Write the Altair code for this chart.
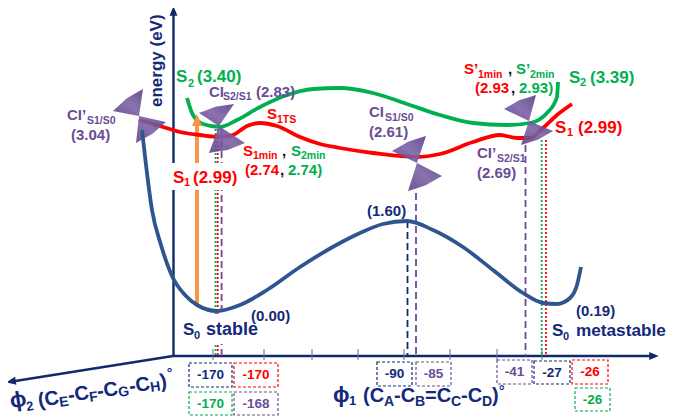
import altair as alt
import pandas as pd

NAVY = "#14297a"
AXIS = "#0f2b6b"
CURVE = "#2f5590"
RED = "#ff0000"
GREEN = "#00b050"
PURPLE = "#6b4c96"
ORANGE = "#f79646"
BLACK = "#111111"

# curves, in the picture's own units
s0_x = [142, 146, 152, 161, 173, 185, 197, 217, 240, 267, 300, 340, 360, 383, 407, 433, 463, 493, 523, 543, 557, 570, 577, 581]
s0_y = [130, 165, 210, 245, 278, 295, 305, 311, 305, 290, 267, 243, 233, 224, 221, 230, 247, 270, 293, 303, 304, 298, 285, 267]
s1_x = [139, 160, 180, 200, 220, 233, 247, 260, 277, 300, 320, 340, 373, 417, 440, 473, 500, 517, 530, 543, 557, 572]
s1_y = [120, 126, 132, 135, 137, 135, 126, 123, 126, 137, 144, 148, 153, 157, 154, 142, 135, 138, 138, 128, 115, 104]
s2_x = [187, 193, 203, 220, 237, 260, 287, 313, 340, 373, 407, 440, 473, 507, 530, 547, 557, 558]
s2_y = [98, 115, 124, 127, 120, 107, 95, 89, 88, 93, 104, 115, 123, 125, 123, 113, 97, 82]

# axes
axis_x = [[173.5, 173.5], [173, 652], [173, 12]]
axis_y = [[12, 356], [356, 356], [356, 381.5]]
arrow_x = [173.5, 654, 11, 197]
arrow_y = [11, 356, 381.5, 120]
arrow_a = [0, 90, 261, 0]
arrow_c = [AXIS, AXIS, AXIS, ORANGE]
arrow_s = [64, 64, 64, 100]
tick_x = [213, 264, 312, 358, 404, 450, 497, 542]

# drop lines
drop_x = [215.5, 217.7, 221.6, 407.5, 416, 525.5, 541.7, 546]
drop_top = [129, 129, 129, 221, 193, 145, 140, 140]
drop_c = [GREEN, RED, PURPLE, NAVY, PURPLE, PURPLE, GREEN, RED]
drop_d = [[2, 2], [2, 2], [7, 4], [7, 4], [7, 4], [7, 4], [2, 2], [2, 2]]

# white label backgrounds
mask_x = [170, 183]
mask_x2 = [240, 262]
mask_y = [163, 314]
mask_y2 = [190, 344]

# conical intersections: apex and the two rim tips of each cone
cone_x = [139, 139, 219, 219, 417, 417, 529, 529]
cone_y = [116, 116, 126, 126, 163, 163, 121, 121]
tip1_x = [113, 166, 199, 245, 392, 442, 504, 553]
tip1_y = [111, 122, 113, 143, 151, 176, 109, 131]
tip2_x = [143, 136, 234, 209, 426, 408, 536, 521]
tip2_y = [89, 143, 104, 153, 136, 191, 95, 145]

# dashed value boxes
box_x = [189, 234, 189, 234, 377, 416, 497, 534, 572, 575]
box_x2 = [232, 278, 232, 278, 412, 451, 532, 570, 608, 610]
box_y = [363, 363, 392, 392, 362, 362, 360, 361, 360, 388]
box_y2 = [387, 387, 415, 415, 386, 386, 384, 384, 384, 411]
box_text = ["-170", "-170", "-170", "-168", "-90", "-85", "-41", "-27", "-26", "-26"]
box_c = [NAVY, RED, GREEN, PURPLE, NAVY, PURPLE, PURPLE, NAVY, RED, GREEN]

# labels, piece by piece so subscripts can be real text
label_t = [
    "S", "2", "(3.40)",
    "CI", "S2/S1", "(2.83)",
    "S", "1TS",
    "S", "1min", ",", "S", "2min", "(2.74", ",", "2.74)",
    "S", "1", "(2.99)",
    "CI’", "S1/S0", "(3.04)",
    "S", "0", "stable", "(0.00)",
    "S", "0", "metastable", "(0.19)", "(1.60)",
    "CI", "S1/S0", "(2.61)",
    "CI’", "S2/S1", "(2.69)",
    "S’", "1min", ",", "S’", "2min", "(2.93", ",", "2.93)",
    "S", "2", "(3.39)",
    "S", "1", "(2.99)",
    "energy (eV)",
    "ϕ", "2", "(C", "E", "-C", "F", "-C", "G", "-C", "H", ")", "°",
    "ϕ", "1", "(C", "A", "-C", "B", "=C", "C", "-C", "D", ")", "°",
]
label_x = [
    176, 188, 197,
    209, 223, 256,
    267, 277,
    243, 253, 282, 291, 301, 245, 280, 288,
    173, 184, 193,
    67, 87, 71,
    183, 194, 206, 251,
    552, 563, 576, 576, 367,
    369, 385, 369,
    477, 497, 477,
    464, 478, 508, 516, 530, 475, 511, 519,
    569, 580, 590,
    555, 567, 578,
    162,
    11, 27, 39, 60, 69, 90, 98, 119, 130, 151, 161, 168,
    333, 349, 363, 384, 394, 415, 425, 451, 461, 482, 492, 499,
]
label_y = [
    82, 87, 82,
    97, 100, 97,
    119, 123,
    156, 159, 156, 156, 159, 175, 175, 175,
    183, 186, 183,
    120, 124, 140,
    335, 339, 335, 321,
    336, 340, 336, 316, 216,
    117, 121, 137,
    158, 162, 178,
    74, 78, 74, 74, 78, 93, 93, 93,
    83, 86, 83,
    133, 136, 133,
    107,
    408, 411, 407, 407, 402, 402, 398, 397, 393, 392, 388, 378,
    402, 405, 402, 406, 402, 406, 402, 406, 402, 406, 402, 396,
]
label_s = [
    17, 11, 17,
    15, 10.5, 15,
    15, 10.5,
    15, 10.5, 15, 15, 10.5, 15, 15, 15,
    17, 11, 17,
    15, 10.5, 15,
    17, 11, 18, 15,
    17, 11, 17.2, 15, 15,
    15, 10.5, 15,
    15, 10.5, 15,
    15, 10.5, 15, 15, 10.5, 15, 15, 15,
    17, 11, 17,
    17, 11, 17,
    17,
    22, 13, 20, 14, 20, 14, 20, 14, 20, 14, 20, 14,
    22, 13, 20, 14, 20, 14, 20, 14, 20, 14, 20, 14,
]
label_c = (
    [GREEN] * 3 + [PURPLE] * 3 + [RED] * 2
    + [RED, RED, BLACK, GREEN, GREEN, RED, BLACK, GREEN]
    + [RED] * 3 + [PURPLE] * 3 + [NAVY] * 9 + [PURPLE] * 6
    + [RED, RED, BLACK, GREEN, GREEN, RED, BLACK, GREEN]
    + [GREEN] * 3 + [RED] * 3 + [NAVY] * 25
)
label_a = [0] * 51 + [270] + [351] * 12 + [0] * 12

X0, X1, Y0, Y1 = 8, 666, 416, 8
sx = alt.Scale(domain=[X0, X1], nice=False, zero=False)
sy = alt.Scale(domain=[Y0, Y1], nice=False, zero=False)


def ex(f="x"):
    return alt.X(f"{f}:Q", scale=sx, axis=None)


def ey(f="y"):
    return alt.Y(f"{f}:Q", scale=sy, axis=None)


def line(xs, ys, color, width, interp="linear"):
    d = pd.DataFrame({"x": xs, "y": ys})
    return alt.Chart(d).mark_line(color=color, strokeWidth=width, interpolate=interp).encode(x=ex(), y=ey())


def cone_frame(ax, ay, p, q):
    """Upper and lower outline of a cone, apex + slightly bowed rim, for an area mark."""
    mx, my = (p[0] + q[0]) / 2, (p[1] + q[1]) / 2
    dx, dy = mx - ax, my - ay
    n = (dx * dx + dy * dy) ** 0.5
    bow = (mx + dx / n * 2, my + dy / n * 2)
    poly = [(ax, ay), p, bow, q]
    rows = []
    for x in sorted({pt[0] for pt in poly}):
        ys = []
        for i in range(4):
            a, b = poly[i], poly[(i + 1) % 4]
            if min(a[0], b[0]) <= x <= max(a[0], b[0]):
                if a[0] == b[0]:
                    ys += [a[1], b[1]]
                else:
                    ys.append(a[1] + (b[1] - a[1]) * (x - a[0]) / (b[0] - a[0]))
        rows.append({"x": x, "y": min(ys), "y2": max(ys)})
    return pd.DataFrame(rows)


layers = []

# axes and ticks
for xs, ys in zip(axis_x, axis_y):
    layers.append(line(xs, ys, AXIS, 2.4))
layers.append(
    alt.Chart(pd.DataFrame({"x": tick_x, "y": [349] * len(tick_x), "y2": [360] * len(tick_x)}))
    .mark_rule(color="#5f7396", strokeWidth=1)
    .encode(x=ex(), y=ey(), y2="y2:Q")
)

# orange excitation arrow
layers.append(line([197, 197], [305, 122], ORANGE, 4))

# drop lines
for x, top, c, dash in zip(drop_x, drop_top, drop_c, drop_d):
    layers.append(
        alt.Chart(pd.DataFrame({"x": [x], "y": [top], "y2": [356]}))
        .mark_rule(color=c, strokeWidth=1.8, strokeDash=dash)
        .encode(x=ex(), y=ey(), y2="y2:Q")
    )

# white masks
layers.append(
    alt.Chart(pd.DataFrame({"x": mask_x, "x2": mask_x2, "y": mask_y, "y2": mask_y2}))
    .mark_rect(color="white")
    .encode(x=ex(), x2="x2:Q", y=ey(), y2="y2:Q")
)

# excited-state curves
layers.append(line(s1_x, s1_y, RED, 3.8, "monotone"))
layers.append(line(s2_x, s2_y, GREEN, 3.8, "monotone"))

# cones
grad = alt.Gradient(
    gradient="linear",
    stops=[
        alt.GradientStop(color="#5f4289", offset=0),
        alt.GradientStop(color="#7d62a6", offset=0.5),
        alt.GradientStop(color="#5a3d86", offset=1),
    ],
    x1=0, y1=1, x2=1, y2=0,
)
for ax, ay, px, py, qx, qy in zip(cone_x, cone_y, tip1_x, tip1_y, tip2_x, tip2_y):
    layers.append(
        alt.Chart(cone_frame(ax, ay, (px, py), (qx, qy)))
        .mark_area(color=grad, opacity=0.9)
        .encode(x=ex(), y=ey(), y2="y2:Q")
    )

# ground-state curve sits over the cones
layers.append(line(s0_x, s0_y, CURVE, 3.8, "monotone"))

# arrowheads
layers.append(
    alt.Chart(pd.DataFrame({"x": arrow_x, "y": arrow_y, "a": arrow_a, "c": arrow_c, "s": arrow_s}))
    .mark_point(shape="M0,-1.2L1,1.2L-1,1.2Z", filled=True, opacity=1, strokeWidth=0)
    .encode(
        x=ex(),
        y=ey(),
        angle=alt.Angle("a:Q", scale=None),
        color=alt.Color("c:N", scale=None),
        size=alt.Size("s:Q", scale=None),
    )
)

# boxes
boxes = pd.DataFrame({"x": box_x, "x2": box_x2, "y": box_y, "y2": box_y2, "c": box_c, "t": box_text})
boxes["mx"] = (boxes.x + boxes.x2) / 2
boxes["my"] = (boxes.y + boxes.y2) / 2
layers.append(
    alt.Chart(boxes)
    .mark_rect(fillOpacity=0, strokeWidth=1.2, strokeDash=[3, 2])
    .encode(x=ex(), x2="x2:Q", y=ey(), y2="y2:Q", stroke=alt.Stroke("c:N", scale=None))
)
layers.append(
    alt.Chart(boxes)
    .mark_text(font="Liberation Sans", fontWeight="bold", fontSize=13.5, align="center", baseline="middle")
    .encode(x=ex("mx"), y=ey("my"), text="t:N", color=alt.Color("c:N", scale=None))
)

# labels
labels = pd.DataFrame({"x": label_x, "y": label_y, "t": label_t, "s": label_s, "c": label_c, "a": label_a})
layers.append(
    alt.Chart(labels)
    .mark_text(font="Liberation Sans", fontWeight="bold", align="left", baseline="alphabetic")
    .encode(
        x=ex(),
        y=ey(),
        text="t:N",
        size=alt.Size("s:Q", scale=None),
        color=alt.Color("c:N", scale=None),
        angle=alt.Angle("a:Q", scale=None),
    )
)

chart = (
    alt.layer(*layers)
    .properties(width=658, height=408, padding=0, autosize=alt.AutoSizeParams(type="none"), background="white")
    .configure_view(stroke=None)
)
chart.save("out.html", embed_options={"renderer": "svg", "actions": False})
